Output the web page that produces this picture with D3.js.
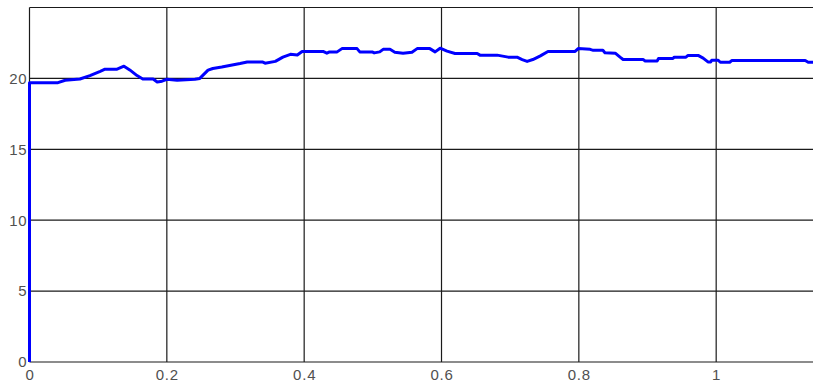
<!DOCTYPE html>
<html>
<head>
<meta charset="utf-8">
<script src="https://cdn.jsdelivr.net/npm/d3@7/dist/d3.min.js"></script>
<style>
  body { margin: 0; background: #fff; }
  .grid line { stroke: #1a1a1a; stroke-width: 1.2; }
  .tick text { font-family: "Liberation Sans", Arial, sans-serif; font-size: 15px; fill: #505050; letter-spacing: 0.8px; }
</style>
</head>
<body>
<div class="chart"></div>
<script>
// time (s) and signal value
var times = [0, 0, 0.0415, 0.052, 0.0735, 0.088, 0.103, 0.110, 0.1275, 0.1376, 0.146, 0.1566, 0.165, 0.180, 0.186, 0.193,
  0.200, 0.215, 0.241, 0.248, 0.260, 0.267, 0.280, 0.3066, 0.317, 0.339, 0.343, 0.358, 0.369, 0.380, 0.390, 0.397,
  0.4275, 0.433, 0.437, 0.448, 0.455, 0.477, 0.481, 0.499, 0.502, 0.510, 0.515, 0.525, 0.532, 0.544, 0.557, 0.5645,
  0.583, 0.5907, 0.598, 0.608, 0.6197, 0.652, 0.656, 0.681, 0.697, 0.710, 0.7175, 0.7247, 0.733, 0.744, 0.755,
  0.7946, 0.799, 0.8165, 0.821, 0.835, 0.838, 0.853, 0.860, 0.8645, 0.8936, 0.8966, 0.914, 0.916, 0.937, 0.939,
  0.956, 0.959, 0.9737, 0.981, 0.988, 0.992, 0.9935, 1.003, 1.006, 1.0197, 1.0226, 1.1297, 1.134, 1.141];
var values = [0, 19.7, 19.7, 19.87, 19.96, 20.2, 20.5, 20.65, 20.65, 20.86, 20.6, 20.2, 19.96, 19.96, 19.75, 19.8,
  19.94, 19.87, 19.94, 20.0, 20.58, 20.7, 20.8, 21.05, 21.16, 21.16, 21.07, 21.2, 21.5, 21.7, 21.65, 21.9,
  21.9, 21.78, 21.87, 21.87, 22.1, 22.1, 21.87, 21.87, 21.8, 21.87, 22.05, 22.05, 21.85, 21.78, 21.85, 22.1,
  22.1, 21.87, 22.13, 21.92, 21.76, 21.76, 21.64, 21.64, 21.5, 21.5, 21.33, 21.2, 21.33, 21.59, 21.9,
  21.9, 22.1, 22.05, 21.98, 21.98, 21.81, 21.78, 21.5, 21.33, 21.33, 21.23, 21.23, 21.4, 21.4, 21.5,
  21.5, 21.62, 21.62, 21.43, 21.16, 21.16, 21.28, 21.28, 21.14, 21.14, 21.26, 21.26, 21.14, 21.14];

var xTicks = [0, 0.2, 0.4, 0.6, 0.8, 1];
var yTicks = [0, 5, 10, 15, 20];

var w = 813, h = 384;
var margin = {top: 7.5, right: 0, bottom: 22, left: 29.5};

var svg = d3.select("div.chart")
            .append("svg")
            .attr("width", w)
            .attr("height", h);

var x = d3.scaleLinear()
          .domain([0, 1.141])
          .range([margin.left, w - margin.right]);

var y = d3.scaleLinear()
          .domain([0, 25])
          .range([h - margin.bottom, margin.top]);

// grid lines
var grid = svg.append("g").attr("class", "grid");

grid.selectAll(".vline")
    .data(xTicks)
    .enter()
    .append("line")
      .attr("x1", d => x(d)).attr("x2", d => x(d))
      .attr("y1", y(0)).attr("y2", y(25));

grid.selectAll(".hline")
    .data(yTicks.concat([25]))
    .enter()
    .append("line")
      .attr("x1", x(0)).attr("x2", w)
      .attr("y1", d => y(d)).attr("y2", d => y(d));

// axes (labels only)
svg.append("g")
   .attr("transform", `translate(0,${y(0)})`)
   .call(d3.axisBottom(x).tickValues(xTicks).tickSize(0).tickPadding(7).tickFormat(d3.format("")))
   .call(g => g.select(".domain").remove());

svg.append("g")
   .attr("transform", `translate(${x(0)},0)`)
   .call(d3.axisLeft(y).tickValues(yTicks).tickSize(0).tickPadding(2))
   .call(g => g.select(".domain").remove());

// signal
var line = d3.line()
             .x((d, i) => x(times[i]))
             .y(d => y(d));

svg.append("path")
   .datum(values)
   .attr("d", line)
   .attr("fill", "none")
   .attr("stroke", "#0000ff")
   .attr("stroke-width", 3)
   .attr("stroke-linejoin", "round");
</script>
</body>
</html>
